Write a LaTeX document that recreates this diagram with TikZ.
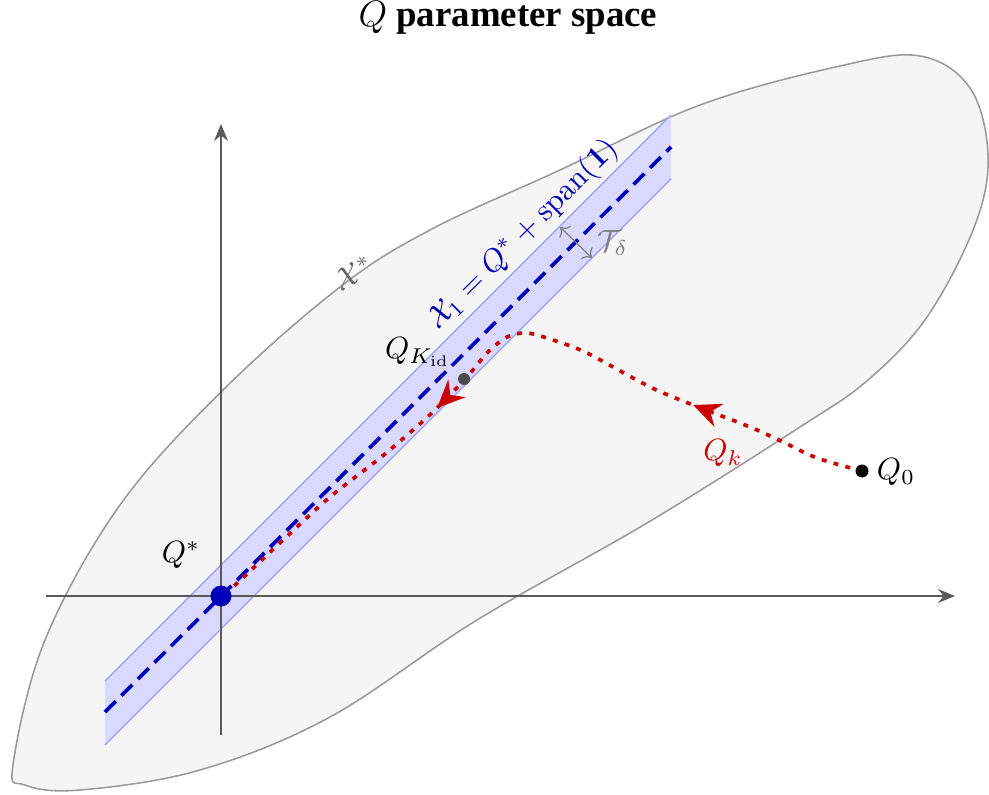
\documentclass[tikz,border=0pt]{standalone}
\usepackage[no-math]{fontspec}
\setmainfont{Liberation Serif}
\usepackage{amsmath}
\usetikzlibrary{arrows.meta,decorations.markings}
\definecolor{blobfill}{gray}{0.96}
\definecolor{blobline}{gray}{0.6}
\definecolor{axisgray}{gray}{0.35}
\definecolor{linblue}{rgb}{0,0,0.72}
\definecolor{iterred}{rgb}{0.8,0,0}
\begin{document}
\begin{tikzpicture}[x=0.3257pt,y=-0.3257pt,
  axis/.style={axisgray,semithick,-{Stealth[length=5.5pt,width=4.5pt]}},
  band/.style={blue!40,thin},
  iterpath/.style={iterred,line width=1.2pt,dash pattern=on 1.6pt off 2.4pt,
    postaction={decorate},
    decoration={markings,
      mark=at position 0.236 with {\arrow{Stealth[length=9pt,width=8pt,inset=3pt]}},
      mark=at position 0.629 with {\arrow{Stealth[length=9pt,width=8pt,inset=3pt]}}}}]
\useasboundingbox (0,0) rectangle (989,795);
% Ursprung und Eckpunkte des Streifens
\coordinate (Qs) at (221,596);
\coordinate (Ua) at (105,681);
\coordinate (Ub) at (671,115);
\coordinate (La) at (105,745);
\coordinate (Lb) at (671,179);
\coordinate (Da) at (105,712);
\coordinate (Db) at (671,147);
\coordinate (Qk) at (464,379);
\coordinate (Q0) at (862,471);
% Zulaessige Menge X*
\draw[blobline,line width=0.5pt,fill=blobfill] plot[smooth cycle,tension=0.6] coordinates {
  (13,765) (45,640) (120,505) (223,390) (340,287) (430,230) (560,170)
  (700,105) (840,66) (920,56) (970,88) (988,155) (975,225) (927,317)
  (868,380) (800,427) (647,523) (477,620) (330,717) (200,770) (80,790)
  (25,785)};
% Streifen T_delta um X_1
\fill[blue!15] (Ua) -- (Ub) -- (Lb) -- (La) -- cycle;
\draw[band] (Ua) -- (Ub);
\draw[band] (La) -- (Lb);
% Achsen
\draw[axis] (46,596) -- (955,596);
\draw[axis] (221,735) -- (221,124);
% Gerade X_1 (gestrichelt)
\draw[linblue,line width=1.2pt,dash pattern=on 5pt off 2.6pt] (Da) -- (Db);
% Breite des Streifens
\coordinate (Ta) at (560,227);
\coordinate (Tb) at (592,258);
\draw[gray,thin,{To[length=2.5pt]}-{To[length=2.5pt]}] (Ta) -- (Tb);
% Iterationen Q_k
\draw[iterpath] plot[smooth,tension=0.5] coordinates {
  (862,471) (817,458) (783,442) (750,427) (693,405) (650,387) (587,353)
  (553,340) (527,333) (507,337) (487,353) (467,377) (437,408) (413,430)
  (380,458) (330,497) (283,540) (233,587) (222,595)};
% Punkte
\fill[linblue] (Qs) circle (10.5);
\fill[black!70] (Qk) circle (6);
\fill (Q0) circle (6.5);
% Beschriftungen
\node[font=\large\bfseries] (title) at (508,18) {$Q$ parameter space};
\node (lQs) at (181,555) {$Q^*$};
\node (lQk) at (418,352) {$Q_{K_{\mathrm{id}}}$};
\node (lQ0) at (896,472) {$Q_0$};
\node[iterred] (lit) at (723,453) {$Q_k$};
\node[black!60,rotate=30] (lX) at (354,273) {$\mathcal{X}^*$};
\node[gray] (lT) at (613,243) {$\mathcal{T}_\delta$};
\node[linblue,rotate=45] (lX1) at (523,235) {$\mathcal{X}_1 = Q^* + \mathrm{span}(\mathbf{1})$};
\end{tikzpicture}
\end{document}
